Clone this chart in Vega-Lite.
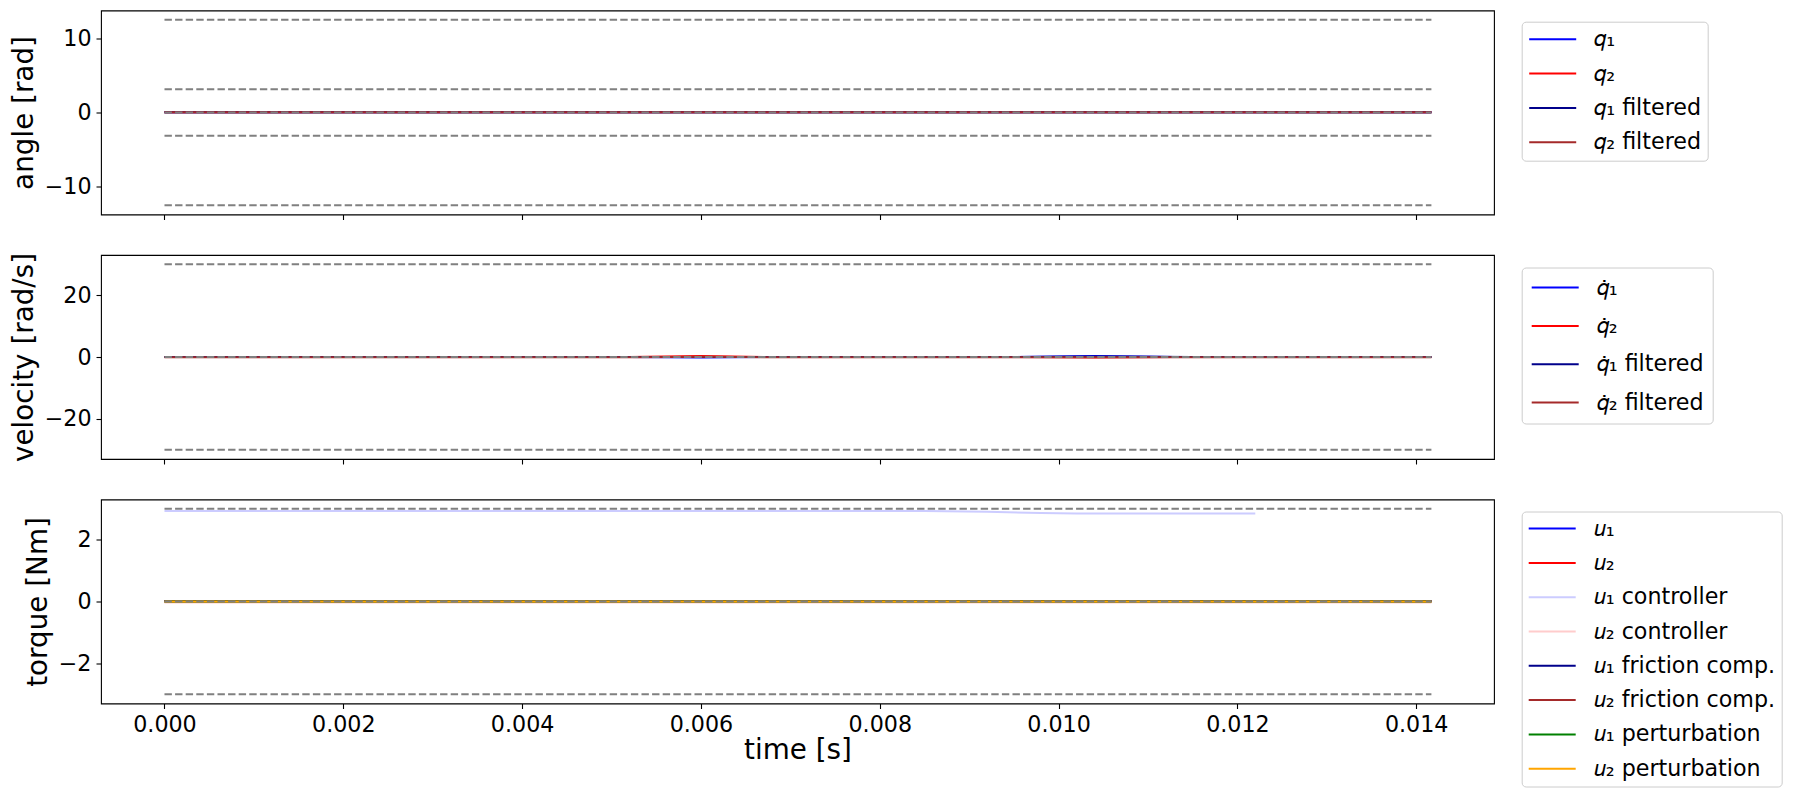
{
  "$schema": "https://vega.github.io/schema/vega-lite/v6.json",
  "padding": {"left": 9, "top": 9.5, "right": 5, "bottom": 5},
  "background": "white",
  "bounds": "flush",
  "spacing": 40.5,
  "datasets": {
    "angle": [
      {"t": 0, "s": "\ud835\udc5e\u2081", "v": 0.02}, {"t": 0.007, "s": "\ud835\udc5e\u2081", "v": 0.02}, {"t": 0.01417, "s": "\ud835\udc5e\u2081", "v": 0.02},
      {"t": 0, "s": "\ud835\udc5e\u2082", "v": 0.03}, {"t": 0.007, "s": "\ud835\udc5e\u2082", "v": 0.03}, {"t": 0.01417, "s": "\ud835\udc5e\u2082", "v": 0.03},
      {"t": 0, "s": "\ud835\udc5e\u2081 filtered", "v": 0.02}, {"t": 0.007, "s": "\ud835\udc5e\u2081 filtered", "v": 0.02}, {"t": 0.01417, "s": "\ud835\udc5e\u2081 filtered", "v": 0.02},
      {"t": 0, "s": "\ud835\udc5e\u2082 filtered", "v": 0.03}, {"t": 0.007, "s": "\ud835\udc5e\u2082 filtered", "v": 0.03}, {"t": 0.01417, "s": "\ud835\udc5e\u2082 filtered", "v": 0.03}
    ],
    "angleLim": [
      {"t": 0, "lv": "a", "v": 12.566}, {"t": 0.01417, "lv": "a", "v": 12.566},
      {"t": 0, "lv": "b", "v": 3.1416}, {"t": 0.01417, "lv": "b", "v": 3.1416},
      {"t": 0, "lv": "c", "v": -3.1416}, {"t": 0.01417, "lv": "c", "v": -3.1416},
      {"t": 0, "lv": "d", "v": -12.566}, {"t": 0.01417, "lv": "d", "v": -12.566},
      {"t": 0, "lv": "e", "v": 0}, {"t": 0.01417, "lv": "e", "v": 0}
    ],
    "velocity": [
      {"t": 0, "s": "\ud835\udc5e\u0307\u2081", "v": 0}, {"t": 0.0052, "s": "\ud835\udc5e\u0307\u2081", "v": 0}, {"t": 0.006, "s": "\ud835\udc5e\u0307\u2081", "v": -0.15}, {"t": 0.0067, "s": "\ud835\udc5e\u0307\u2081", "v": 0}, {"t": 0.0095, "s": "\ud835\udc5e\u0307\u2081", "v": 0}, {"t": 0.0104, "s": "\ud835\udc5e\u0307\u2081", "v": 0.35}, {"t": 0.0113, "s": "\ud835\udc5e\u0307\u2081", "v": 0}, {"t": 0.01417, "s": "\ud835\udc5e\u0307\u2081", "v": 0},
      {"t": 0, "s": "\ud835\udc5e\u0307\u2082", "v": 0}, {"t": 0.0052, "s": "\ud835\udc5e\u0307\u2082", "v": 0}, {"t": 0.006, "s": "\ud835\udc5e\u0307\u2082", "v": 0.3}, {"t": 0.0067, "s": "\ud835\udc5e\u0307\u2082", "v": 0}, {"t": 0.0095, "s": "\ud835\udc5e\u0307\u2082", "v": 0}, {"t": 0.0104, "s": "\ud835\udc5e\u0307\u2082", "v": -0.15}, {"t": 0.0113, "s": "\ud835\udc5e\u0307\u2082", "v": 0}, {"t": 0.01417, "s": "\ud835\udc5e\u0307\u2082", "v": 0},
      {"t": 0, "s": "\ud835\udc5e\u0307\u2081 filtered", "v": 0}, {"t": 0.0095, "s": "\ud835\udc5e\u0307\u2081 filtered", "v": 0}, {"t": 0.0105, "s": "\ud835\udc5e\u0307\u2081 filtered", "v": 0.15}, {"t": 0.0115, "s": "\ud835\udc5e\u0307\u2081 filtered", "v": 0}, {"t": 0.01417, "s": "\ud835\udc5e\u0307\u2081 filtered", "v": 0},
      {"t": 0, "s": "\ud835\udc5e\u0307\u2082 filtered", "v": -0.1}, {"t": 0.0053, "s": "\ud835\udc5e\u0307\u2082 filtered", "v": -0.1}, {"t": 0.0061, "s": "\ud835\udc5e\u0307\u2082 filtered", "v": 0.1}, {"t": 0.0069, "s": "\ud835\udc5e\u0307\u2082 filtered", "v": -0.1}, {"t": 0.01417, "s": "\ud835\udc5e\u0307\u2082 filtered", "v": -0.1}
    ],
    "velocityLim": [
      {"t": 0, "lv": "a", "v": 30}, {"t": 0.01417, "lv": "a", "v": 30},
      {"t": 0, "lv": "b", "v": -30}, {"t": 0.01417, "lv": "b", "v": -30},
      {"t": 0, "lv": "e", "v": 0}, {"t": 0.01417, "lv": "e", "v": 0}
    ],
    "torque": [
      {"t": 0, "s": "\ud835\udc62\u2081", "v": 0.02}, {"t": 0.007, "s": "\ud835\udc62\u2081", "v": 0.02}, {"t": 0.01417, "s": "\ud835\udc62\u2081", "v": 0.02},
      {"t": 0, "s": "\ud835\udc62\u2082", "v": 0}, {"t": 0.007, "s": "\ud835\udc62\u2082", "v": 0}, {"t": 0.01417, "s": "\ud835\udc62\u2082", "v": 0},
      {"t": 0, "s": "\ud835\udc62\u2081 controller", "v": 2.93}, {"t": 0.0085, "s": "\ud835\udc62\u2081 controller", "v": 2.93}, {"t": 0.0092, "s": "\ud835\udc62\u2081 controller", "v": 2.9}, {"t": 0.0098, "s": "\ud835\udc62\u2081 controller", "v": 2.86}, {"t": 0.0102, "s": "\ud835\udc62\u2081 controller", "v": 2.845}, {"t": 0.0122, "s": "\ud835\udc62\u2081 controller", "v": 2.845},
      {"t": 0, "s": "\ud835\udc62\u2082 controller", "v": -0.03}, {"t": 0.007, "s": "\ud835\udc62\u2082 controller", "v": -0.03}, {"t": 0.01417, "s": "\ud835\udc62\u2082 controller", "v": -0.03},
      {"t": 0, "s": "\ud835\udc62\u2081 friction comp.", "v": 0.02}, {"t": 0.007, "s": "\ud835\udc62\u2081 friction comp.", "v": 0.02}, {"t": 0.01417, "s": "\ud835\udc62\u2081 friction comp.", "v": 0.02},
      {"t": 0, "s": "\ud835\udc62\u2082 friction comp.", "v": 0}, {"t": 0.007, "s": "\ud835\udc62\u2082 friction comp.", "v": 0}, {"t": 0.01417, "s": "\ud835\udc62\u2082 friction comp.", "v": 0},
      {"t": 0, "s": "\ud835\udc62\u2081 perturbation", "v": 0}, {"t": 0.007, "s": "\ud835\udc62\u2081 perturbation", "v": 0}, {"t": 0.01417, "s": "\ud835\udc62\u2081 perturbation", "v": 0},
      {"t": 0, "s": "\ud835\udc62\u2082 perturbation", "v": 0}, {"t": 0.007, "s": "\ud835\udc62\u2082 perturbation", "v": 0}, {"t": 0.01417, "s": "\ud835\udc62\u2082 perturbation", "v": 0}
    ],
    "torqueLim": [
      {"t": 0, "lv": "a", "v": 3}, {"t": 0.01417, "lv": "a", "v": 3},
      {"t": 0, "lv": "b", "v": -3}, {"t": 0.01417, "lv": "b", "v": -3},
      {"t": 0, "lv": "e", "v": 0}, {"t": 0.01417, "lv": "e", "v": 0}
    ]
  },
  "resolve": {"scale": {"color": "independent", "x": "independent", "y": "independent"}, "legend": {"color": "independent"}},
  "vconcat": [
    {
      "width": 1393, "height": 204,
      "layer": [
        {
          "data": {"name": "angle"},
          "mark": {"type": "line", "strokeWidth": 2, "clip": true},
          "encoding": {
            "x": {"field": "t", "type": "quantitative", "scale": {"domain": [-0.00071, 0.01487], "nice": false, "zero": false},
                  "axis": {"values": [0, 0.002, 0.004, 0.006, 0.008, 0.01, 0.012, 0.014], "labels": false, "title": null}},
            "y": {"field": "v", "type": "quantitative", "scale": {"domain": [-13.82, 13.82], "nice": false},
                  "axis": {"values": [-10, 0, 10], "title": "angle [rad]"}},
            "color": {"field": "s", "type": "nominal",
                      "scale": {"domain": ["\ud835\udc5e\u2081", "\ud835\udc5e\u2082", "\ud835\udc5e\u2081 filtered", "\ud835\udc5e\u2082 filtered"], "range": ["#0000ff", "#ff0000", "#00008b", "#a52a2a"]},
                      "legend": {"orient": "none", "legendX": 1420.7, "legendY": 11.2, "title": null, "padding": 6.5}},
            "order": {"field": "t"}
          }
        },
        {
          "data": {"name": "angleLim"},
          "mark": {"type": "line", "strokeWidth": 2, "color": "#808080", "strokeDash": [7.4, 3.2]},
          "encoding": {
            "x": {"field": "t", "type": "quantitative"},
            "y": {"field": "v", "type": "quantitative"},
            "detail": {"field": "lv"}
          }
        }
      ]
    },
    {
      "width": 1393, "height": 204,
      "layer": [
        {
          "data": {"name": "velocity"},
          "mark": {"type": "line", "strokeWidth": 2, "clip": true},
          "encoding": {
            "x": {"field": "t", "type": "quantitative", "scale": {"domain": [-0.00071, 0.01487], "nice": false, "zero": false},
                  "axis": {"values": [0, 0.002, 0.004, 0.006, 0.008, 0.01, 0.012, 0.014], "labels": false, "title": null}},
            "y": {"field": "v", "type": "quantitative", "scale": {"domain": [-33, 33], "nice": false},
                  "axis": {"values": [-20, 0, 20], "title": "velocity [rad/s]"}},
            "color": {"field": "s", "type": "nominal",
                      "scale": {"domain": ["\ud835\udc5e\u0307\u2081", "\ud835\udc5e\u0307\u2082", "\ud835\udc5e\u0307\u2081 filtered", "\ud835\udc5e\u0307\u2082 filtered"], "range": ["#0000ff", "#ff0000", "#00008b", "#a52a2a"]},
                      "legend": {"orient": "none", "legendX": 1420.7, "legendY": 12.5, "title": null, "padding": 9, "rowPadding": 15.3}},
            "order": {"field": "t"}
          }
        },
        {
          "data": {"name": "velocityLim"},
          "mark": {"type": "line", "strokeWidth": 2, "color": "#808080", "strokeDash": [7.4, 3.2]},
          "encoding": {
            "x": {"field": "t", "type": "quantitative"},
            "y": {"field": "v", "type": "quantitative"},
            "detail": {"field": "lv"}
          }
        }
      ]
    },
    {
      "width": 1393, "height": 204,
      "layer": [
        {
          "data": {"name": "torque"},
          "mark": {"type": "line", "strokeWidth": 2, "clip": true},
          "encoding": {
            "x": {"field": "t", "type": "quantitative", "scale": {"domain": [-0.00071, 0.01487], "nice": false, "zero": false},
                  "axis": {"values": [0, 0.002, 0.004, 0.006, 0.008, 0.01, 0.012, 0.014], "format": ".3f", "title": "time [s]", "titlePadding": 1}},
            "y": {"field": "v", "type": "quantitative", "scale": {"domain": [-3.3, 3.3], "nice": false},
                  "axis": {"values": [-2, 0, 2], "title": "torque [Nm]"}},
            "color": {"field": "s", "type": "nominal",
                      "scale": {"domain": ["\ud835\udc62\u2081", "\ud835\udc62\u2082", "\ud835\udc62\u2081 controller", "\ud835\udc62\u2082 controller", "\ud835\udc62\u2081 friction comp.", "\ud835\udc62\u2082 friction comp.", "\ud835\udc62\u2081 perturbation", "\ud835\udc62\u2082 perturbation"],
                                "range": ["#0000ff", "#ff0000", "#ccccff", "#ffcccc", "#00008b", "#a52a2a", "#008000", "#ffa500"]},
                      "legend": {"orient": "none", "legendX": 1420.7, "legendY": 12, "title": null}},
            "order": {"field": "t"}
          }
        },
        {
          "data": {"name": "torqueLim"},
          "mark": {"type": "line", "strokeWidth": 2, "color": "#808080", "strokeDash": [7.4, 3.2]},
          "encoding": {
            "x": {"field": "t", "type": "quantitative"},
            "y": {"field": "v", "type": "quantitative"},
            "detail": {"field": "lv"}
          }
        }
      ]
    }
  ],
  "config": {
    "font": "DejaVu Sans",
    "view": {"stroke": "black", "strokeWidth": 1.1},
    "axis": {
      "domain": false, "grid": false,
      "tickColor": "black", "tickSize": 5, "tickWidth": 1.1,
      "labelFont": "DejaVu Sans", "labelFontSize": 22.2, "labelColor": "black", "labelPadding": 5,
      "titleFont": "DejaVu Sans", "titleFontSize": 27.8, "titleFontWeight": "normal", "titleColor": "black", "titlePadding": 6
    },
    "legend": {
      "labelFont": "DejaVu Sans", "labelFontSize": 22.2, "labelColor": "black", "labelLimit": 500,
      "symbolType": "stroke", "symbolSize": 2209, "symbolStrokeWidth": 2,
      "clipHeight": 22.2,
      "labelOffset": 17, "rowPadding": 11.3, "padding": 6,
      "strokeColor": "#cccccc", "fillColor": "white", "cornerRadius": 4
    }
  }
}
